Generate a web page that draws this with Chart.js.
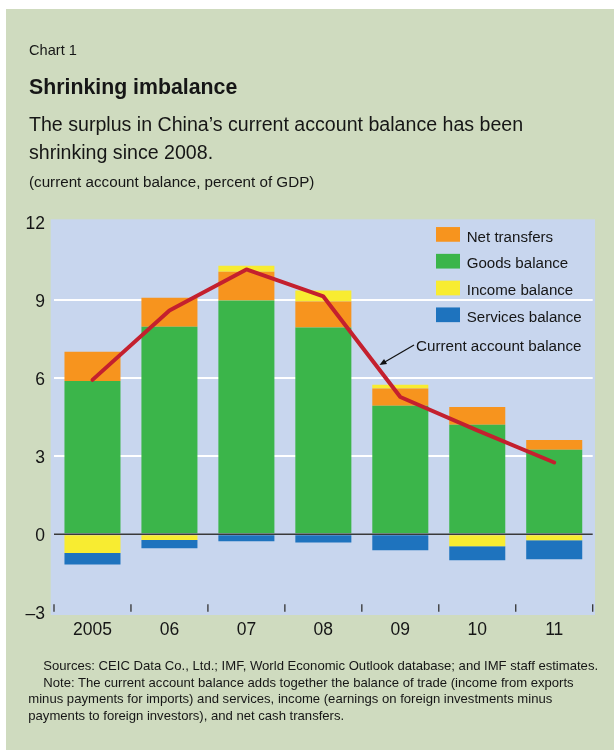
<!DOCTYPE html>
<html><head><meta charset="utf-8">
<script src="https://cdn.jsdelivr.net/npm/chart.js@4/dist/chart.umd.min.js"></script>
<style>
html,body{margin:0;padding:0;background:#fff;}
body{width:614px;height:750px;position:relative;overflow:hidden;font-family:"Liberation Sans",Arial,sans-serif;color:#161616;}
#panel{position:absolute;left:6px;top:9px;width:608px;height:741px;background:#cfdbbf;}
.t{position:absolute;white-space:nowrap;}
#c{position:absolute;left:0;top:0;}
.foot div{white-space:nowrap;}
</style></head><body>
<div id="panel"></div>
<canvas id="c" width="614" height="750"></canvas>
<div class="t" style="left:29px;top:42.6px;font-size:14.6px;line-height:14.6px">Chart 1</div>
<div class="t" style="left:29px;top:77px;font-size:21.3px;line-height:21.3px;font-weight:bold">Shrinking imbalance</div>
<div class="t" style="left:29px;top:110px;font-size:19.6px;line-height:28.3px">The surplus in China’s current account balance has been<br>shrinking since 2008.</div>
<div class="t" style="left:29px;top:173.8px;font-size:15.2px;line-height:15.2px">(current account balance, percent of GDP)</div>
<div class="t foot" style="left:28.3px;top:658.2px;font-size:13.1px;line-height:16.6px">
<div style="padding-left:15px">Sources: CEIC Data Co., Ltd.; IMF, World Economic Outlook database; and IMF staff estimates.</div>
<div style="padding-left:15px">Note: The current account balance adds together the balance of trade (income from exports</div>
<div>minus payments for imports) and services, income (earnings on foreign investments minus</div>
<div>payments to foreign investors), and net cash transfers.</div>
</div>
<script>
const years = ['2005', '06', '07', '08', '09', '10', '11'];
const goodsBalance = [5.90, 7.98, 8.99, 7.96, 4.94, 4.21, 3.25];
const netTransfers = [1.12, 1.12, 1.11, 1.00, 0.67, 0.69, 0.38];
const incomeBalance = [-0.72, -0.22, 0.23, 0.42, 0.14, -0.46, -0.23];
const servicesBalance = [-0.44, -0.32, -0.27, -0.32, -0.62, -0.54, -0.73];
const currentAccount = [5.94, 8.61, 10.19, 9.15, 5.28, 4.00, 2.76];
const legendOrder = ['Net transfers', 'Goods balance', 'Income balance', 'Services balance'];
const lineLabel = 'Current account balance';
const yMin = -3, yMax = 12, yStep = 3;

const FONT = '"Liberation Sans", Arial, sans-serif';
Chart.defaults.font.family = FONT;

const colors = {
  'Goods balance': '#3bb54a',
  'Net transfers': '#f7941e',
  'Income balance': '#f8ec31',
  'Services balance': '#1e73be'
};

const decor = {
  id: 'decor',
  beforeDraw(chart) {
    const {ctx, chartArea: a} = chart;
    ctx.save();
    ctx.fillStyle = '#c8d6ee';
    const l = a.left - 3.3, t = a.top - 3.1, r = a.right + 2.3, b = a.bottom + 2.8;
    ctx.fillRect(l, t, r - l, b - t);
    ctx.restore();
  },
  afterDatasetsDraw(chart) {
    const {ctx, chartArea: a, scales: {y}} = chart;
    ctx.save();
    const y0 = y.getPixelForValue(0);
    ctx.strokeStyle = '#3a3a3a';
    ctx.lineWidth = 1.6;
    ctx.beginPath(); ctx.moveTo(a.left, y0); ctx.lineTo(a.right, y0); ctx.stroke();
    const n = years.length, w = (a.right - a.left) / n;
    ctx.strokeStyle = '#333';
    ctx.lineWidth = 1.3;
    for (let i = 0; i <= n; i++) {
      const xx = a.left + i * w;
      ctx.beginPath(); ctx.moveTo(xx, a.bottom - 8); ctx.lineTo(xx, a.bottom - 0.5); ctx.stroke();
    }
    ctx.restore();
  },
  afterDraw(chart) {
    const {ctx, chartArea: a} = chart;
    ctx.save();
    const bx = a.right - 156.7, by0 = a.top + 12, gap = 26.8;
    ctx.font = '15.1px ' + FONT;
    ctx.textBaseline = 'alphabetic';
    ctx.textAlign = 'left';
    legendOrder.forEach((name, i) => {
      const ds = chart.data.datasets.find(d => d.label === name);
      const cy = by0 + i * gap;
      ctx.fillStyle = ds.backgroundColor;
      ctx.fillRect(bx, cy - 7.35, 24, 14.7);
      ctx.fillStyle = '#161616';
      ctx.fillText(name, bx + 30.7, cy + 7.2);
    });
    // annotation
    const tx = a.right - 176.7, ty = a.top + 128.6;
    ctx.font = '15.2px ' + FONT;
    ctx.fillText(lineLabel, tx, ty);
    const x1 = tx - 2, y1 = ty - 6, x2 = tx - 36.5, y2 = ty + 14;
    ctx.strokeStyle = '#111'; ctx.lineWidth = 1.2;
    ctx.beginPath(); ctx.moveTo(x1, y1); ctx.lineTo(x2 + 4, y2 - 2.3); ctx.stroke();
    const ang = Math.atan2(y2 - y1, x2 - x1), L = 7, W = 3;
    ctx.fillStyle = '#111';
    ctx.beginPath();
    ctx.moveTo(x2, y2);
    ctx.lineTo(x2 - L * Math.cos(ang) + W * Math.sin(ang), y2 - L * Math.sin(ang) - W * Math.cos(ang));
    ctx.lineTo(x2 - L * Math.cos(ang) - W * Math.sin(ang), y2 - L * Math.sin(ang) + W * Math.cos(ang));
    ctx.closePath(); ctx.fill();
    ctx.restore();
  }
};

const barDs = (label, data) => ({
  type: 'bar', label, data, backgroundColor: colors[label], borderWidth: 0,
  stack: 'bal', order: 1, barPercentage: 0.728, categoryPercentage: 1.0
});

new Chart(document.getElementById('c'), {
  data: {
    labels: years,
    datasets: [
      {type: 'line', label: lineLabel, data: currentAccount, borderColor: '#c4202e', borderWidth: 4,
       pointRadius: 0, fill: false, tension: 0, stack: 'ca', order: 0,
       borderCapStyle: 'round', borderJoinStyle: 'round'},
      barDs('Goods balance', goodsBalance),
      barDs('Net transfers', netTransfers),
      barDs('Income balance', incomeBalance),
      barDs('Services balance', servicesBalance)
    ]
  },
  options: {
    responsive: false, animation: false, devicePixelRatio: 1,
    layout: {padding: {left: 0, right: 21.3, top: 222.4, bottom: 107.8}},
    plugins: {legend: {display: false}, tooltip: {enabled: false}, title: {display: false}},
    scales: {
      x: {
        stacked: true,
        grid: {display: false, drawTicks: false},
        border: {display: false},
        ticks: {font: {size: 17.5}, color: '#161616', padding: 7, maxRotation: 0},
        afterFit(s) { s.height = 30; }
      },
      y: {
        stacked: true, min: yMin, max: yMax,
        grid: {drawTicks: false, lineWidth: 2,
               color: c => (c.tick && c.tick.value > 0 && c.tick.value < yMax) ? '#ffffff' : 'rgba(0,0,0,0)'},
        border: {display: false},
        ticks: {stepSize: yStep, font: {size: 17.5}, color: '#161616', padding: 9, labelOffset: 2,
                callback: v => v < 0 ? '\u2013' + Math.abs(v) : String(v)},
        afterFit(s) { s.width = 54; }
      }
    }
  },
  plugins: [decor]
});
</script>
</body></html>
